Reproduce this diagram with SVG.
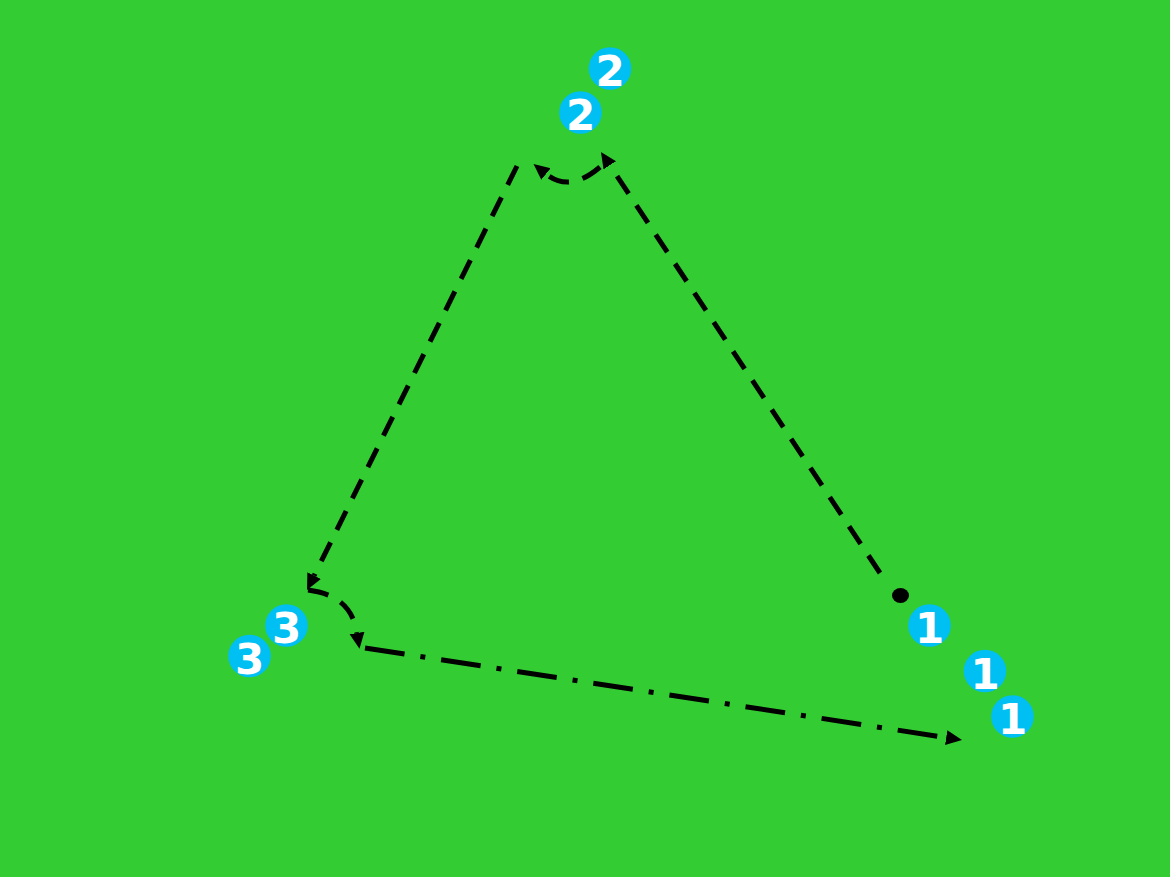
<svg xmlns="http://www.w3.org/2000/svg" width="1170" height="877" viewBox="0 0 1170 877">
<defs>
<marker id="arr" markerUnits="userSpaceOnUse" markerWidth="17" markerHeight="16" refX="0" refY="7.5" orient="auto">
<path d="M0,0 L16,7.5 L0,15 z" fill="#000"/>
</marker>
<style>
.c{fill:#00BFF2}
.t{font-family:"DejaVu Sans",sans-serif;font-weight:bold;font-size:42px;fill:#fff;text-anchor:middle}
.d{fill:none;stroke:#000;stroke-width:5;stroke-dasharray:21,14}
.dd{fill:none;stroke:#000;stroke-width:5;stroke-dasharray:40,16,5,16}
</style>
</defs>
<rect width="1170" height="877" fill="#33CC33"/>
<g id="connectors">
<path class="d" d="M880,573 L609.8,165.3" marker-end="url(#arr)"/>
<path class="d" d="M600,167 C586,179 566,190 546,174" marker-end="url(#arr)"/>
<path class="d" d="M517,166 L314.1,575.7" marker-end="url(#arr)"/>
<path class="d" d="M308,590 C338,594 353,608 357,633" marker-end="url(#arr)"/>
<path class="dd" d="M365,648 L946.2,737.6" marker-end="url(#arr)"/>
</g>
<g id="dot"><ellipse cx="900.5" cy="595.5" rx="8.5" ry="7.5" fill="#000"/></g>
<g id="n2a"><circle class="c" cx="610" cy="68.5" r="21.3"/><text class="t" x="610" y="86">2</text></g>
<g id="n2b"><circle class="c" cx="580.5" cy="112.5" r="21.3"/><text class="t" x="580.5" y="130">2</text></g>
<g id="n3a"><circle class="c" cx="286.5" cy="625.5" r="21.3"/><text class="t" x="286.5" y="643">3</text></g>
<g id="n3b"><circle class="c" cx="249.5" cy="656" r="21.3"/><text class="t" x="249.5" y="673.5">3</text></g>
<g id="n1a"><circle class="c" cx="929.5" cy="625.5" r="21.3"/><text class="t" x="929.5" y="643">1</text></g>
<g id="n1b"><circle class="c" cx="985" cy="671" r="21.3"/><text class="t" x="985" y="688.5">1</text></g>
<g id="n1c"><circle class="c" cx="1012.5" cy="716.5" r="21.3"/><text class="t" x="1012.5" y="734">1</text></g>
</svg>
